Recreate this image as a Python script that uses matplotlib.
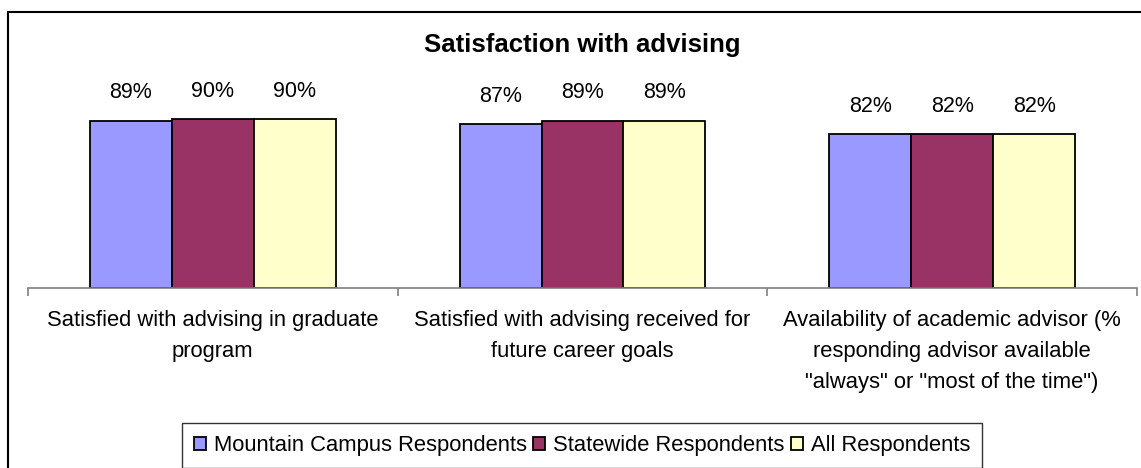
import matplotlib
matplotlib.use("Agg")
import matplotlib.pyplot as plt
from matplotlib.patches import Rectangle
import numpy as np

categories = [
    "Satisfied with advising in graduate\nprogram",
    "Satisfied with advising received for\nfuture career goals",
    "Availability of academic advisor (%\nresponding advisor available\n\"always\" or \"most of the time\")",
]
series_names = ["Mountain Campus Respondents", "Statewide Respondents", "All Respondents"]
mountain = [89, 87, 82]
statewide = [90, 89, 82]
all_resp = [90, 89, 82]
colors = ["#9999FF", "#993366", "#FFFFCC"]
title = "Satisfaction with advising"

plt.rcParams['font.family'] = ['Liberation Sans', 'DejaVu Sans']

W, H = 1141, 468
fig = plt.figure(figsize=(W / 100, H / 100), dpi=100)

# outer chart border (left and top visible)
fig.patches.append(Rectangle((8 / W, -0.2), 1.2, 1 - 12 / H + 0.2, transform=fig.transFigure,
                             fill=False, edgecolor="black", linewidth=1.5, zorder=0))

ax_left, ax_right = 28 / W, 1137 / W
ax_bottom, ax_top = 1 - 288 / H, 1 - 100 / H
ax = fig.add_axes([ax_left, ax_bottom, ax_right - ax_left, ax_top - ax_bottom])

x = np.arange(len(categories))
bw = 82 / 370
data = [mountain, statewide, all_resp]
for i, (vals, c, name) in enumerate(zip(data, colors, series_names)):
    pos = x + (i - 1) * bw
    bars = ax.bar(pos, vals, width=bw, color=c, edgecolor="black", linewidth=1.3, label=name)
    for xp, v in zip(pos, vals):
        ax.annotate(f"{v}%", (xp, v), xytext=(0, 20), textcoords="offset points",
                    ha="center", va="center", fontsize=15.5)

ax.set_xlim(-0.5, len(categories) - 0.5)
ax.set_ylim(0, 100)
ax.set_yticks([])
for s in ["top", "right", "left"]:
    ax.spines[s].set_visible(False)
ax.spines["bottom"].set_color("#808080")
ax.spines["bottom"].set_linewidth(1.2)
ax.set_xticks(np.arange(len(categories) + 1) - 0.5, minor=False)
ax.set_xticklabels([])
ax.tick_params(axis="x", which="major", length=6, color="#808080", width=1.2)
ax.set_xticks(x, minor=True)
ax.set_xticklabels(categories, minor=True, fontsize=15.8, linespacing=1.63)
ax.tick_params(axis="x", which="minor", length=0, pad=15.5)
ax.set_facecolor("none")

fig.text(582 / W, 1 - 45 / H, title, ha="center", va="center", fontsize=18.5, fontweight="bold")

leg = fig.legend(loc="center", bbox_to_anchor=(582 / W, 1 - 445.5 / H), ncol=3, fontsize=15.8,
                 frameon=True, fancybox=False, edgecolor="black", handlelength=0.55,
                 handleheight=0.55, handletextpad=0.35, columnspacing=0.3, borderpad=0.55,
                 borderaxespad=0)
leg.get_frame().set_linewidth(1.0)

fig.savefig("out.png", dpi=100, facecolor="white")
